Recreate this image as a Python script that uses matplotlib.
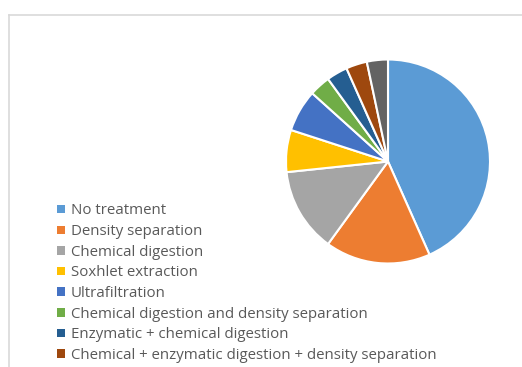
import matplotlib.pyplot as plt
from matplotlib.lines import Line2D
from matplotlib.patches import Patch

# Number of studies per pre-treatment method
categories = [
    'No treatment',
    'Density separation',
    'Chemical digestion',
    'Soxhlet extraction',
    'Ultrafiltration',
    'Chemical digestion and density separation',
    'Enzymatic + chemical digestion',
    'Chemical + enzymatic digestion + density separation',
    'Other',
]
counts = [13, 5, 4, 2, 2, 1, 1, 1, 1]
colors = ['#5B9BD5', '#ED7D31', '#A5A5A5', '#FFC000', '#4472C4',
          '#70AD47', '#255E91', '#9E480E', '#636363']

W, H = 522, 367
fig = plt.figure(figsize=(W / 100, H / 100), dpi=100)
fig.patch.set_facecolor('white')

# chart area border (top and left edges visible)
fig.add_artist(Line2D([9 / W, 1], [1 - 15 / H, 1 - 15 / H], color='#D9D9D9', lw=1.2))
fig.add_artist(Line2D([9 / W, 9 / W], [0, 1 - 15 / H], color='#D9D9D9', lw=1.2))

cx, cy, r = 388, 161.5, 102
ax = fig.add_axes([(cx - r) / W, 1 - (cy + r) / H, 2 * r / W, 2 * r / H])
wedges, _ = ax.pie(counts, colors=colors, startangle=90, counterclock=False,
                   wedgeprops=dict(edgecolor='white', linewidth=1.5))
ax.set_aspect('equal')
ax.set_xlim(-1, 1)
ax.set_ylim(-1, 1)

# only the first eight entries fit above the bottom edge
n_shown = 8
handles = [Patch(facecolor=c, edgecolor='none') for c in colors[:n_shown]]
fig.legend(handles, categories[:n_shown], loc='upper left',
           bbox_to_anchor=(57 / W, 1 - 203.5 / H), frameon=False,
           prop={'family': 'Open Sans', 'size': 10.8},
           labelcolor='#595959', handlelength=0.5, handleheight=0.5,
           handletextpad=0.42, labelspacing=0.375, borderpad=0, borderaxespad=0)

fig.savefig('out.png', dpi=100)
